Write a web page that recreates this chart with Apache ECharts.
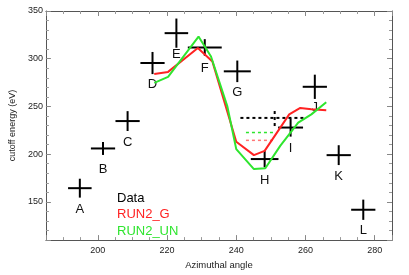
<!DOCTYPE html>
<html>
<head>
<meta charset="utf-8">
<script src="https://cdn.jsdelivr.net/npm/echarts@6/dist/echarts.min.js"></script>
<style>html,body{margin:0;padding:0;background:#fff}#c{width:409px;height:275px}</style>
</head>
<body>
<div id="c"></div>
<script>
// Measured data points (with error bars)
const pointLabels = ['A','B','C','D','E','F','G','H','I','J','K','L'];
const azimuth = [194.8, 201.5, 208.6, 215.8, 222.7, 230.9, 240.3, 248.2, 255.7, 262.7, 269.6, 276.7];
const cutoff  = [164.4, 206.0, 234.7, 295.5, 326.8, 311.8, 286.8, 194.9, 227.9, 270.6, 199.0, 141.8];
const azErr   = [3.4, 3.5, 3.5, 3.5, 3.4, 4.9, 3.9, 4.0, 3.6, 3.5, 3.5, 3.5];
const cutErr  = [9.9, 6.8, 10.4, 11.6, 15.3, 8.7, 11.3, 8.7, 9.5, 12.7, 10.4, 10.6];

// Simulation RUN2_G
const runGAz  = [216.3, 220.3, 228.9, 233.1, 240.0, 245.1, 248.2, 255.3, 258.5, 261.7, 266.0];
const runGCut = [284.1, 286.2, 311.2, 297.2, 213.1, 199.0, 203.5, 241.7, 248.5, 247.0, 246.0];

// Simulation RUN2_UN
const runUAz  = [216.3, 220.3, 229.1, 232.7, 237.4, 240.0, 245.1, 248.4, 252.7, 257.9, 261.7, 266.0];
const runUCut = [274.7, 281.0, 323.2, 302.4, 250.4, 205.3, 184.4, 185.2, 208.7, 233.1, 241.7, 254.5];

// Dashed reference levels
const dataLevelAz = [241.2, 259.8];  const dataLevel = 238.0;
const dataMarkAz = 251.1;            const dataMarkRange = [229.5, 246.9];
const runULevelAz = [242.8, 251.2];  const runULevel = 222.7;
const runGLevelAz = [242.8, 250.7];  const runGLevel = 214.5;

// Axis extents
const xMin = 185, xMax = 285, yMin = 110, yMax = 350;

const FONT = 'Liberation Sans, Arial, Helvetica, sans-serif';
const RED = '#ff2222', GREEN = '#2ee52e';

const chart = echarts.init(document.getElementById('c'));

function axisBase(extra) {
  return Object.assign({
    type: 'value', splitLine: {show: false},
    axisLine: {show: true, onZero: false, lineStyle: {color: '#555', width: 1}},
    axisTick: {show: true, inside: true, length: 5, lineStyle: {color: '#888'}},
    minorTick: {show: true, length: 3, lineStyle: {color: '#999'}},
    axisLabel: {show: false}
  }, extra);
}

const errData = azimuth.map((x, i) => [x, cutoff[i], azErr[i], cutErr[i]]);

const option = {
  animation: false,
  grid: {left: 41, right: 17, top: 11, bottom: 33.5},
  xAxis: [
    axisBase({min: xMin, max: xMax, position: 'bottom',
      minorTick: {show: true, splitNumber: 4, length: 3, lineStyle: {color: '#999'}},
      axisLabel: {show: true, showMinLabel: false, showMaxLabel: false, fontSize: 9, color: '#222', fontFamily: FONT, margin: 6},
      name: 'Azimuthal angle', nameLocation: 'middle', nameGap: 12,
      nameTextStyle: {fontSize: 9.5, color: '#222', fontFamily: FONT}}),
    axisBase({min: xMin, max: xMax, position: 'top',
      minorTick: {show: true, splitNumber: 4, length: 3, lineStyle: {color: '#999'}}})
  ],
  yAxis: [
    axisBase({min: yMin, max: yMax, position: 'left',
      minorTick: {show: true, splitNumber: 5, length: 3, lineStyle: {color: '#999'}},
      axisLabel: {show: true, showMinLabel: false, fontSize: 9, color: '#222', fontFamily: FONT, margin: 3},
      name: 'cutoff energy (eV)', nameLocation: 'middle', nameGap: 26,
      nameTextStyle: {fontSize: 9, color: '#222', fontFamily: FONT}}),
    axisBase({min: yMin, max: yMax, position: 'right',
      minorTick: {show: true, splitNumber: 5, length: 3, lineStyle: {color: '#999'}}})
  ],
  legend: {
    orient: 'vertical', left: 107, top: 186, icon: 'none', itemWidth: 0, itemHeight: 14, itemGap: 3,
    selectedMode: false,
    textStyle: {fontSize: 13, fontFamily: FONT},
    data: [
      {name: 'Data', textStyle: {color: '#000'}},
      {name: 'RUN2_G', textStyle: {color: RED}},
      {name: 'RUN2_UN', textStyle: {color: GREEN}}
    ]
  },
  series: [
    {
      name: 'Data', type: 'custom', z: 1,
      data: errData,
      encode: {x: 0, y: 1},
      renderItem: function (params, api) {
        const x = api.value(0), y = api.value(1), ex = api.value(2), ey = api.value(3);
        const c = api.coord([x, y]);
        const l = api.coord([x - ex, y]), r = api.coord([x + ex, y]);
        const t = api.coord([x, y + ey]), b = api.coord([x, y - ey]);
        return {
          type: 'group', children: [
            {type: 'line', shape: {x1: l[0], y1: c[1], x2: r[0], y2: c[1]}, style: {stroke: '#000', lineWidth: 2}},
            {type: 'line', shape: {x1: c[0], y1: t[1], x2: c[0], y2: b[1]}, style: {stroke: '#000', lineWidth: 2}},
            {type: 'text', x: c[0], y: c[1] + 21, style: {text: pointLabels[params.dataIndex], fill: '#111',
              fontSize: 13, fontFamily: FONT, align: 'center', verticalAlign: 'middle'}}
          ]
        };
      }
    },
    {
      name: 'RUN2_G', type: 'line', z: 3, symbol: 'none',
      data: runGAz.map((x, i) => [x, runGCut[i]]),
      lineStyle: {color: RED, width: 2}, itemStyle: {color: RED}
    },
    {
      name: 'RUN2_UN', type: 'line', z: 3, symbol: 'none',
      data: runUAz.map((x, i) => [x, runUCut[i]]),
      lineStyle: {color: GREEN, width: 2}, itemStyle: {color: GREEN}
    },
    {
      name: 'dataLevel', type: 'line', z: 2, symbol: 'none',
      data: dataLevelAz.map(x => [x, dataLevel]),
      lineStyle: {color: '#000', width: 2, type: [3, 3]}
    },
    {
      name: 'dataMark', type: 'line', z: 2, symbol: 'none',
      data: dataMarkRange.map(v => [dataMarkAz, v]),
      lineStyle: {color: '#000', width: 2, type: [3, 3]}
    },
    {
      name: 'runULevel', type: 'line', z: 2, symbol: 'none',
      data: runULevelAz.map(x => [x, runULevel]),
      lineStyle: {color: GREEN, width: 1.5, type: [3, 3]}
    },
    {
      name: 'runGLevel', type: 'line', z: 2, symbol: 'none',
      data: runGLevelAz.map(x => [x, runGLevel]),
      lineStyle: {color: '#ff7777', width: 1.5, type: [3, 3]}
    }
  ]
};
chart.setOption(option);
</script>
</body>
</html>
